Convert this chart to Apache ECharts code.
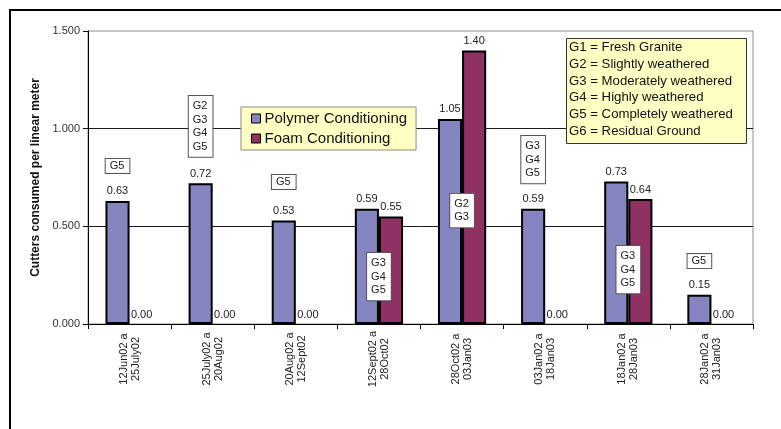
<!DOCTYPE html>
<html>
<head>
<meta charset="utf-8">
<script src="https://cdn.jsdelivr.net/npm/echarts@6/dist/echarts.min.js"></script>
<style>
  html, body { margin: 0; padding: 0; background: #fff; }
  #chart { width: 781px; height: 429px; }
</style>
</head>
<body>
<div id="chart"></div>
<script>
// Cutter consumption per excavation period
const periods = [
  '12Jun02 a\n25July02',
  '25July02 a\n20Aug02',
  '20Aug02 a\n12Sept02',
  '12Sept02 a\n28Oct02',
  '28Oct02 a\n03Jan03',
  '03Jan02 a\n18Jan03',
  '18Jan02 a\n28Jan03',
  '28Jan02 a\n31Jan03'
];
const polymer = [0.63, 0.72, 0.53, 0.59, 1.05, 0.59, 0.73, 0.15];
const foam    = [0.00, 0.00, 0.00, 0.55, 1.40, 0.00, 0.64, 0.00];

// Ground classes met in each period, and the axis level where each tag sits
const groundNotes = ['G5', 'G2\nG3\nG4\nG5', 'G5', 'G3\nG4\nG5', 'G2\nG3', 'G3\nG4\nG5', 'G3\nG4\nG5', 'G5'];
const noteLevel   = [0.845, 1.167, 0.763, 0.363, 0.666, 0.962, 0.399, 0.358];

const groundKey = [
  'G1 = Fresh Granite',
  'G2 = Slightly weathered',
  'G3 = Moderately weathered',
  'G4 = Highly weathered',
  'G5 = Completely weathered',
  'G6 = Residual Ground'
];

const seriesNames = ['Polymer Conditioning', 'Foam Conditioning'];
const yMin = 0, yMax = 1.5, yStep = 0.5;

const FONT = 'Arial, "Liberation Sans", sans-serif';
const chart = echarts.init(document.getElementById('chart'), null, { renderer: 'canvas' });

const barLabel = {
  show: true,
  position: 'top',
  distance: 4,
  fontFamily: FONT,
  fontSize: 11,
  color: '#222',
  formatter: p => Number(p.value).toFixed(2)
};

// zero-height bars get no outline so the baseline stays a single thin rule
const asBarData = values => values.map(v => v === 0 ? { value: v, itemStyle: { borderWidth: 0 } } : v);

chart.setOption({
  animation: false,
  backgroundColor: '#fff',
  textStyle: { fontFamily: FONT },
  grid: {
    left: 88, right: 28, top: 31, bottom: 105,
    show: true, borderColor: '#8c8c8c', borderWidth: 1,
    backgroundColor: 'transparent',
    containLabel: false,
    outerBoundsMode: 'none'
  },
  legend: {
    data: seriesNames,
    orient: 'vertical',
    left: 241, top: 107,
    padding: [4, 9, 4, 10],
    itemGap: 5,
    itemWidth: 9, itemHeight: 9,
    icon: 'rect',
    backgroundColor: '#FFFFC4',
    borderColor: '#8a8a8a',
    borderWidth: 1,
    borderRadius: 0,
    itemStyle: { borderColor: '#000', borderWidth: 1 },
    textStyle: { fontFamily: FONT, fontSize: 15, color: '#111', padding: [0, 0, 0, -1] }
  },
  xAxis: {
    type: 'category',
    data: periods,
    axisLine: { lineStyle: { color: '#000', width: 1 } },
    axisTick: { show: true, interval: 0, alignWithLabel: false, length: 5, lineStyle: { color: '#000' } },
    axisLabel: {
      interval: 0,
      rotate: 90,
      align: 'center',
      verticalAlign: 'middle',
      margin: 35,
      fontFamily: FONT,
      fontSize: 11,
      lineHeight: 12,
      color: '#222'
    },
    splitLine: { show: false }
  },
  yAxis: {
    type: 'value',
    min: yMin, max: yMax, interval: yStep,
    name: 'Cutters consumed per linear meter',
    nameLocation: 'middle',
    nameGap: 43,
    nameRotate: 90,
    nameTextStyle: { fontFamily: FONT, fontSize: 12, fontWeight: 'bold', color: '#111' },
    axisLine: { show: true, lineStyle: { color: '#000', width: 1 } },
    axisTick: { show: true, inside: false, length: 5, lineStyle: { color: '#000' } },
    axisLabel: {
      margin: 8,
      fontFamily: FONT,
      fontSize: 11,
      color: '#333',
      formatter: v => v.toFixed(3)
    },
    splitLine: { show: true, showMinLine: false, showMaxLine: false, lineStyle: { color: '#1a1a1a', width: 1 } }
  },
  series: [
    {
      name: seriesNames[0],
      type: 'bar',
      data: asBarData(polymer),
      barGap: '0%',
      barCategoryGap: '42%',
      itemStyle: { color: '#8585C1', borderColor: '#000', borderWidth: 2 },
      label: barLabel,
      z: 2
    },
    {
      name: seriesNames[1],
      type: 'bar',
      data: asBarData(foam),
      barGap: '0%',
      barCategoryGap: '42%',
      itemStyle: { color: '#8F3162', borderColor: '#000', borderWidth: 2 },
      label: barLabel,
      z: 2
    },
    {
      // ground-class tags: over the single bar when only one series is present,
      // otherwise centred on the period
      type: 'custom',
      data: noteLevel.map((lv, i) => [i, lv]),
      encode: { x: 0, y: 1 },
      clip: false,
      silent: true,
      z: 10,
      renderItem: (params, api) => {
        const i = api.value(0);
        const pt = api.coord([i, api.value(1)]);
        const band = api.size([1, 0])[0];
        const shift = foam[i] > 0 ? 0 : -band * 0.58 / 4;
        const multi = groundNotes[i].indexOf('\n') >= 0;
        return {
          type: 'text',
          x: pt[0] + shift,
          y: pt[1],
          style: {
            text: groundNotes[i],
            font: '11px ' + FONT,
            fill: '#222',
            align: 'center',
            verticalAlign: 'top',
            lineHeight: multi ? 13.7 : 12,
            backgroundColor: '#fff',
            borderColor: '#555',
            borderWidth: 1,
            padding: multi ? [3, 5, 3, 4] : [1, 5, 1, 4]
          }
        };
      }
    }
  ],
  graphic: [
    {
      // outer frame around the figure
      type: 'rect',
      shape: { x: 10, y: 10, width: 820, height: 480 },
      style: { fill: 'none', stroke: '#000', lineWidth: 2 },
      silent: true,
      z: 0
    },
    {
      type: 'rect',
      left: 566, top: 38,
      z: 100,
      shape: { x: 0, y: 0, width: 180, height: 105 },
      style: { fill: '#FFFFC4', stroke: '#333', lineWidth: 1 }
    },
    {
      type: 'text',
      left: 569, top: 39,
      z: 101,
      style: {
        text: groundKey.join('\n'),
        font: '13.2px ' + FONT,
        fill: '#111',
        lineHeight: 16.8
      }
    }
  ]
});
</script>
</body>
</html>
